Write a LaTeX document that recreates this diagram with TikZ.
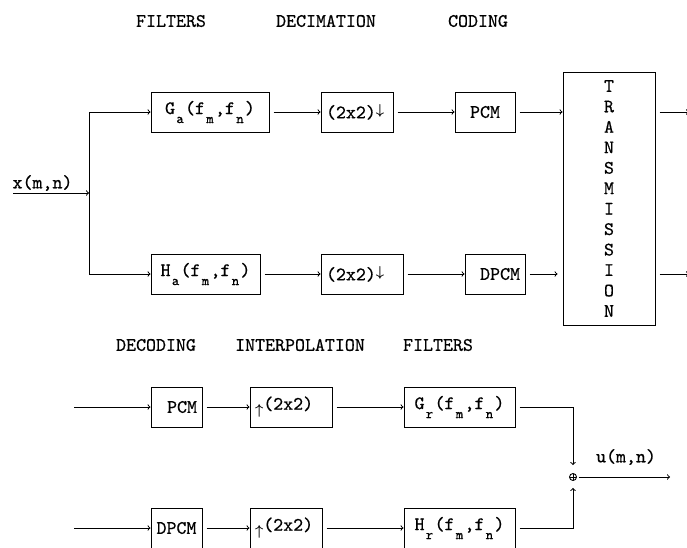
\documentclass[tikz,border=0pt]{standalone}
\usepackage{amsmath}
\usepackage{fontspec}
\usepackage{tikz}
\usetikzlibrary{positioning}
\newfontfamily\dotfont{lmmono10-regular.otf}[FakeBold=0.6]
\newcommand{\lowsub}[1]{\makebox[10pt]{\raisebox{-9pt}{\fontsize{14}{14}\selectfont #1}}}
\newcommand{\decarrow}{\raisebox{4pt}{\fontsize{14}{14}\selectfont\boldmath$\downarrow$}}
\newcommand{\intarrow}{\raisebox{-5pt}{\fontsize{14}{14}\selectfont\boldmath$\uparrow$}}

\begin{document}
\begin{tikzpicture}[x=1pt, y=-1pt, line width=1pt,
  sysblock/.style={draw, rectangle, minimum height=40pt, inner sep=2pt, font=\fontsize{19}{20}\selectfont\dotfont},
  stagehead/.style={inner sep=0pt, font=\fontsize{19}{20}\selectfont\dotfont},
  sig/.style={->, shorten <=4pt},
  adder/.style={draw, circle, inner sep=0pt, minimum size=7pt, line width=0.9pt,
    path picture={\draw[line width=0.9pt] (path picture bounding box.north) -- (path picture bounding box.south)
      (path picture bounding box.west) -- (path picture bounding box.east);}}
]
\useasboundingbox (0,0) rectangle (687,547);

% Analysis side
\node[stagehead] (hfilt) at (171,21) {FILTERS};
\node[stagehead] (hdeci) at (326,21) {DECIMATION};
\node[stagehead] (hcode) at (478,21) {CODING};

\node[sysblock, minimum width=118pt] (ga) at (210,112) {G\lowsub{a}(f\lowsub{m},f\lowsub{n})};
\node[sysblock, inner xsep=5pt, text width=62pt, align=left, right=51pt of ga] (deca) {(2x2)\decarrow};
\node[sysblock, minimum width=60pt, right=61pt of deca] (pcma) {PCM};

\node[sysblock, minimum width=109pt] (ha) at (205.5,274) {H\lowsub{a}(f\lowsub{m},f\lowsub{n})};
\node[sysblock, inner xsep=5pt, text width=72pt, align=left, right=60pt of ha] (decb) {(2x2)\decarrow};
\node[sysblock, inner xsep=5pt, text width=50pt, align=right, right=61pt of decb] (dpcma) {DPCM};

\node[draw, rectangle, minimum width=92pt, minimum height=253pt, align=center,
  font=\fontsize{19}{20.45}\selectfont\dotfont] (trans) at (609,198.5)
  {T\\R\\A\\N\\S\\M\\I\\S\\S\\I\\O\\N};

% Input split
\coordinate (xin) at (13,193);
\coordinate (split) at (89,193);
\node[stagehead] (xlab) at (42.5,183) {x(m,n)};
\draw[->] (xin) -- (split);
\draw[->] (split) |- (ga);
\draw[->] (split) |- (ha);

\draw[sig] (ga) -- (deca);
\draw[sig] (deca) -- (pcma);
\draw[sig] (pcma) -- (pcma -| trans.west);
\draw[sig] (ha) -- (decb);
\draw[sig] (decb) -- (dpcma);
\draw[sig, shorten >=5pt] (dpcma) -- (dpcma -| trans.west);

\coordinate (outa) at (689,112);
\coordinate (outb) at (689,274);
\draw[sig] (trans.east |- outa) -- (outa);
\draw[sig] (trans.east |- outb) -- (outb);

% Synthesis side
\node[stagehead] (hdeco) at (156,345) {DECODING};
\node[stagehead] (hintp) at (300,345) {INTERPOLATION};
\node[stagehead] (hfilr) at (438,345) {FILTERS};

\coordinate (ina) at (74,407);
\node[sysblock, inner xsep=5pt, text width=41pt, align=right] (pcmb) at (176.5,407) {PCM};
\node[sysblock, inner xsep=5pt, text width=72pt, align=left, right=47pt of pcmb] (intpa) {\intarrow(2x2)};
\node[sysblock, minimum width=111pt, right=71pt of intpa] (gr) {G\lowsub{r}(f\lowsub{m},f\lowsub{n})};

\coordinate (inb) at (74,528);
\node[sysblock, minimum width=51pt] (dpcmb) at (176.5,528) {DPCM};
\node[sysblock, inner xsep=5pt, text width=62pt, align=left, right=47pt of dpcmb] (intpb) {\intarrow(2x2)};
\node[sysblock, minimum width=111pt, right=81pt of intpb] (hr) {H\lowsub{r}(f\lowsub{m},f\lowsub{n})};

\node[adder] (sum) at (573,477) {};
\coordinate (uout) at (670,477);
\node[stagehead] (ulab) at (626,457) {u(m,n)};

\draw[->] (ina) -- (pcmb);
\draw[sig] (pcmb) -- (intpa);
\draw[sig] (intpa) -- (gr);
\draw[sig, shorten >=8pt] (gr) -| (sum);
\draw[->] (inb) -- (dpcmb);
\draw[sig] (dpcmb) -- (intpb);
\draw[sig] (intpb) -- (hr);
\draw[sig, shorten >=7pt] (hr) -| (sum);
\draw[->, shorten <=2pt] (sum) -- (uout);

\end{tikzpicture}
\end{document}
